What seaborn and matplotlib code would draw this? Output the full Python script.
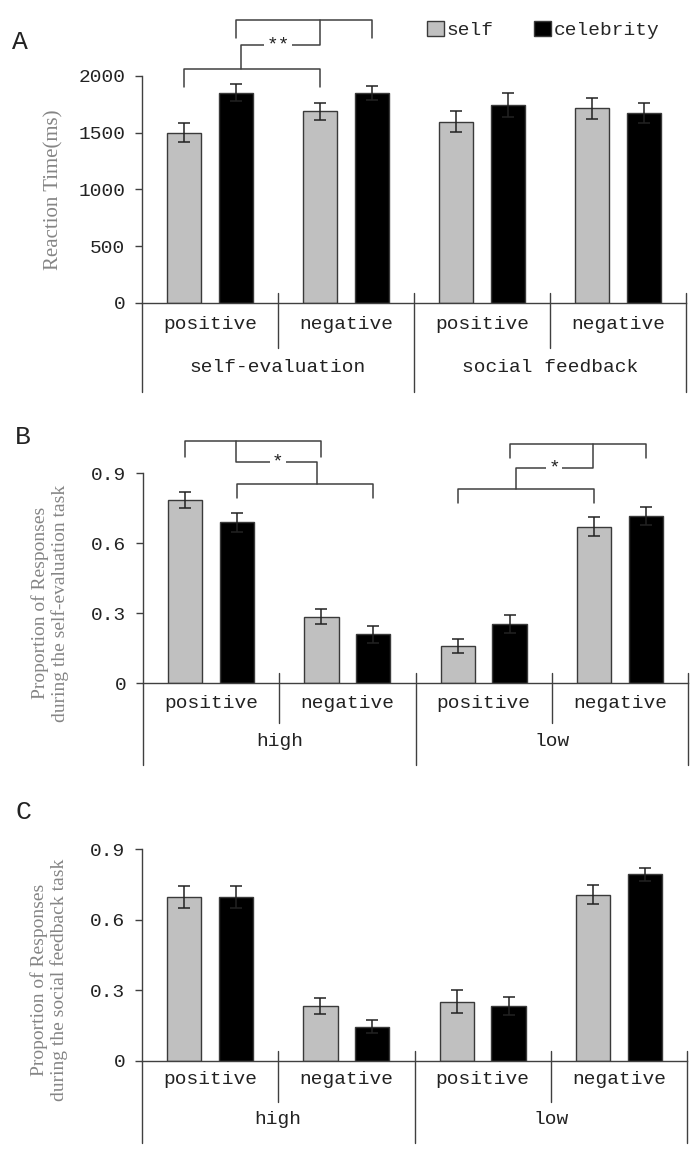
import pandas as pd
import seaborn as sns
import matplotlib.pyplot as plt
from matplotlib.patches import Patch

# Data
conditions = ['positive', 'negative', 'positive', 'negative']
cond_keys = ['c1', 'c2', 'c3', 'c4']
groups_a = ['self-evaluation', 'social feedback']
groups_bc = ['high', 'low']
who = ['self', 'celebrity']

rt_self = [1500, 1685, 1596, 1713]
rt_self_err = [84, 74, 93, 94]
rt_celeb = [1850, 1847, 1742, 1669]
rt_celeb_err = [75, 64, 109, 88]

selfeval_self = [0.785, 0.285, 0.159, 0.671]
selfeval_self_err = [0.033, 0.033, 0.029, 0.040]
selfeval_celeb = [0.690, 0.209, 0.252, 0.717]
selfeval_celeb_err = [0.041, 0.036, 0.038, 0.040]

social_self = [0.698, 0.233, 0.251, 0.706]
social_self_err = [0.047, 0.033, 0.050, 0.040]
social_celeb = [0.698, 0.145, 0.233, 0.794]
social_celeb_err = [0.047, 0.028, 0.040, 0.028]

rt_ticks = [0, 500, 1000, 1500, 2000]
rt_ticklabels = ['0', '500', '1000', '1500', '2000']
prop_ticks = [0, 0.3, 0.6, 0.9]
prop_ticklabels = ['0', '0.3', '0.6', '0.9']

GRAY = '#c0c0c0'
EDGE = '#3a3a3a'
LINE = '#404040'
LABEL_GRAY = '#858585'
W, H = 700, 1153

sns.set_style('ticks')
plt.rcParams['font.family'] = ['Liberation Mono', 'DejaVu Sans']
plt.rcParams['font.size'] = 14

fig = plt.figure(figsize=(W / 100, H / 100), dpi=100)


def axes_px(left, right, top, bottom):
    return fig.add_axes([left / W, 1 - bottom / H, (right - left) / W, (bottom - top) / H])


def draw_panel(ax, s_vals, s_err, c_vals, c_err, ticks, ticklabels, groups,
               lab_off, grp_off, inner_bot, outer_bot):
    df = pd.DataFrame({
        'cond': cond_keys * 2,
        'who': ['self'] * 4 + ['celebrity'] * 4,
        'value': s_vals + c_vals,
    })
    sns.barplot(data=df, x='cond', y='value', hue='who', order=cond_keys,
                hue_order=who, palette=[GRAY, 'black'], saturation=1,
                width=0.76, gap=0.34, edgecolor=EDGE, linewidth=1,
                errorbar=None, legend=False, ax=ax)

    # error bars on top of the bars
    bars = sorted(ax.patches, key=lambda p: p.get_x())
    errs = []
    for s, c in zip(s_err, c_err):
        errs += [s, c]
    xs = [p.get_x() + p.get_width() / 2 for p in bars]
    hs = [p.get_height() for p in bars]
    ax.errorbar(xs, hs, yerr=errs, fmt='none', ecolor='#222222',
                elinewidth=1.1, capsize=4.5, capthick=1.1, zorder=3)

    ymax = ticks[-1]
    ax.set_xlim(-0.5, 3.5)
    ax.set_ylim(0, ymax)
    ax.set_xticks([])
    ax.set_yticks(ticks)
    ax.set_yticklabels(ticklabels)
    ax.set_xlabel('')
    ax.set_ylabel('')
    ax.tick_params(axis='y', length=5, width=1, color=LINE, pad=7,
                   labelsize=14, labelcolor='#222222')
    sns.despine(ax=ax)
    ax.spines['left'].set_bounds(0, ymax)
    for sp in ['left', 'bottom']:
        ax.spines[sp].set_color(LINE)
        ax.spines[sp].set_linewidth(1)

    hpx = ax.get_position().height * H
    tr = ax.get_xaxis_transform()
    for i, lab in enumerate(conditions):
        ax.text(i, -lab_off / hpx, lab, transform=tr, ha='center', va='center',
                fontsize=14, color='#222222')
    for j, lab in enumerate(groups):
        ax.text(0.5 + 2 * j, -grp_off / hpx, lab, transform=tr, ha='center',
                va='center', fontsize=14, color='#222222')
    up = 10 / hpx
    ax.plot([-0.5, -0.5], [0, -outer_bot / hpx], transform=tr, color=LINE,
            lw=1, clip_on=False)
    for x in [0.5, 2.5]:
        ax.plot([x, x], [up, -inner_bot / hpx], transform=tr, color=LINE,
                lw=1, clip_on=False)
    for x in [1.5, 3.5]:
        ax.plot([x, x], [up, -outer_bot / hpx], transform=tr, color=LINE,
                lw=1, clip_on=False)


def bracket(ax, x1, x2, y, drop):
    ax.plot([x1, x1, x2, x2], [drop, y, y, drop], color=LINE, lw=1.1,
            clip_on=False)


def link(ax, xa, ya, xb, yb, ymid, xtext, label):
    ax.plot([xa, xa, xb, xb], [ya, ymid, ymid, yb], color=LINE, lw=1.1,
            clip_on=False)
    ax.text(xtext, ymid, label, ha='center', va='center', fontsize=14,
            color='#222222', zorder=5,
            bbox=dict(facecolor='white', edgecolor='none', pad=1.5))


# Panel A
ax_a = axes_px(142, 686, 75.7, 303)
draw_panel(ax_a, rt_self, rt_self_err, rt_celeb, rt_celeb_err,
           rt_ticks, rt_ticklabels, groups_a, 22, 65, 45, 89)
bracket(ax_a, -0.19, 0.81, 2059, 1903)
bracket(ax_a, 0.19, 1.19, 2490, 2329)
link(ax_a, 0.23, 2059, 0.81, 2490, 2270, 0.50, '**')

# Panel B
ax_b = axes_px(143, 688, 473.3, 683)
draw_panel(ax_b, selfeval_self, selfeval_self_err, selfeval_celeb,
           selfeval_celeb_err, prop_ticks, prop_ticklabels, groups_bc,
           20, 59, 40, 82)
bracket(ax_b, -0.19, 0.81, 1.039, 0.971)
bracket(ax_b, 0.19, 1.19, 0.853, 0.793)
link(ax_b, 0.18, 1.039, 0.78, 0.853, 0.95, 0.49, '*')
bracket(ax_b, 2.19, 3.19, 1.024, 0.964)
bracket(ax_b, 1.81, 2.81, 0.833, 0.771)
link(ax_b, 2.80, 1.024, 2.24, 0.833, 0.924, 2.52, '*')

# Panel C
ax_c = axes_px(142, 687, 849.3, 1060.7)
draw_panel(ax_c, social_self, social_self_err, social_celeb,
           social_celeb_err, prop_ticks, prop_ticklabels, groups_bc,
           19, 59, 41, 82)

# y labels
fig.text(54 / W, 1 - 190 / H, 'Reaction Time(ms)', rotation=90, ha='center',
         va='center', fontsize=15, color=LABEL_GRAY, family='Liberation Serif')
fig.text(50 / W, 1 - 603 / H,
         'Proportion of Responses\nduring the self-evaluation task',
         rotation=90, ha='center', va='center', fontsize=14,
         color=LABEL_GRAY, family='Liberation Serif', linespacing=1.15)
fig.text(49 / W, 1 - 980 / H,
         'Proportion of Responses\nduring the social feedback task',
         rotation=90, ha='center', va='center', fontsize=14,
         color=LABEL_GRAY, family='Liberation Serif', linespacing=1.15)

# panel letters
for letter, (x, y) in zip('ABC', [(20, 42), (23, 437), (23, 812)]):
    fig.text(x / W, 1 - y / H, letter, ha='center', va='center', fontsize=19,
             color='#222222')

# legend
handles = [Patch(facecolor=GRAY, edgecolor=EDGE), Patch(facecolor='black', edgecolor=EDGE)]
ax_a.legend(handles=handles, labels=who, ncol=2, frameon=False,
            loc='center left', bbox_to_anchor=(427 / W, 1 - 30 / H),
            bbox_transform=fig.transFigure, handlelength=0.85,
            handleheight=0.8, handletextpad=0.15, columnspacing=2.1,
            borderpad=0, borderaxespad=0, fontsize=14)

fig.savefig('out.png', dpi=100)
